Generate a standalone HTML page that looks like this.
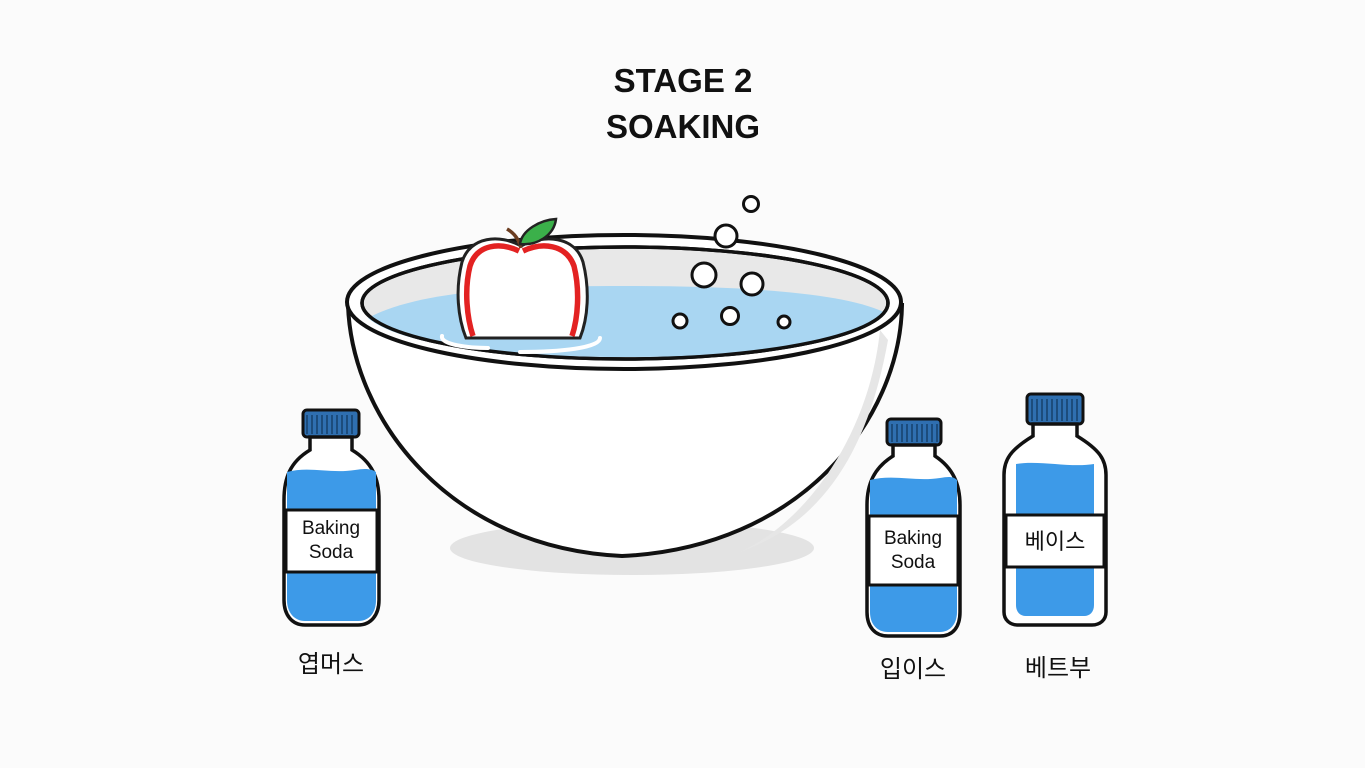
<!DOCTYPE html>
<html><head><meta charset="utf-8"><style>
html,body{margin:0;padding:0;background:#fbfbfb;}
svg{display:block}
text{font-family:"Liberation Sans","Noto Sans CJK KR",sans-serif;}
</style></head><body>
<svg width="1365" height="768" viewBox="0 0 1365 768" xmlns="http://www.w3.org/2000/svg">
<rect width="1365" height="768" fill="#fbfbfb"/>
<text x="683" y="92" text-anchor="middle" font-size="33" font-weight="bold" fill="#111">STAGE 2</text>
<text x="683" y="138" text-anchor="middle" font-size="33" font-weight="bold" fill="#111">SOAKING</text>

<ellipse cx="632" cy="548" rx="182" ry="27" fill="#e3e3e3"/>
<path d="M348,305 C352,420 450,548 622,556 C800,548 900,420 902,305 Z" fill="#fff" stroke="#111" stroke-width="4"/>
<path d="M880,330 C870,430 810,520 740,552 C830,520 870,440 888,340 Z" fill="#e6e6e6"/>
<ellipse cx="624" cy="302" rx="277" ry="67" fill="#fff" stroke="#111" stroke-width="4"/>
<ellipse cx="625" cy="303" rx="263" ry="56" fill="#e8e8e8" stroke="#111" stroke-width="3.5"/>
<path d="M368,318 C420,290 520,286 625,286 C740,286 840,292 884,312 C860,345 740,357 625,357 C500,357 400,345 368,318 Z" fill="#a9d6f2"/>
<ellipse cx="625" cy="303" rx="263" ry="56" fill="none" stroke="#111" stroke-width="3.5"/>
<!-- apple -->
<path d="M521,246 C500,234 470,236 462,262 C455,290 458,318 466,338 L580,338 C588,318 590,290 583,262 C575,236 544,234 521,246 Z" fill="#fff" stroke="#222" stroke-width="3"/>
<path d="M519,251 C500,242 477,244 470,266 C464,290 467,318 473,336 M523,251 C542,242 566,244 574,266 C580,290 578,318 572,336" fill="none" stroke="#e32222" stroke-width="5.5"/>
<path d="M521,248 C519,240 514,233 507,229" stroke="#6b3d20" stroke-width="3.5" fill="none"/>
<path d="M520,244 C522,230 540,220 556,219 C554,236 536,246 520,244 Z" fill="#3bb04a" stroke="#222" stroke-width="2.5"/>
<path d="M442,336 C440,345 470,348 488,348 M520,352 C560,352 600,348 600,338" stroke="#fff" stroke-width="4" fill="none" stroke-linecap="round"/>
<g fill="#fff" stroke="#111" stroke-width="3">
<circle cx="751" cy="204" r="7.5"/>
<circle cx="726" cy="236" r="11"/>
<circle cx="704" cy="275" r="12"/>
<circle cx="752" cy="284" r="11"/>
<circle cx="730" cy="316" r="8.5"/>
<circle cx="680" cy="321" r="7"/>
<circle cx="784" cy="322" r="6"/>
</g>

<g>
<rect x="303" y="410" width="56" height="27" rx="4" fill="#2f6fb0" stroke="#111" stroke-width="3"/>
<path d="M307,415 V434 M312,415 V434 M317,415 V434 M322,415 V434 M327,415 V434 M332,415 V434 M337,415 V434 M342,415 V434 M347,415 V434 M352,415 V434" stroke="#17406b" stroke-width="1.5"/>
<path d="M310,437 V450 C290,462 284,478 284,500 V600 C284,615 292,625 305,625 H358 C371,625 379,615 379,600 V500 C379,478 372,462 352,450 V437 Z" fill="#fff" stroke="#111" stroke-width="3.5"/>
<path d="M287,472 C310,466 330,474 355,470 C366,468 372,469 376,472 V600 C376,612 370,621 358,621 H305 C294,621 287,612 287,600 Z" fill="#3d9ae8"/>
<rect x="286" y="510" width="91" height="62" fill="#fff" stroke="#111" stroke-width="3"/>
<text x="331" y="534" text-anchor="middle" font-size="19" fill="#111">Baking</text>
<text x="331" y="558" text-anchor="middle" font-size="19" fill="#111">Soda</text>
</g>
<text x="331" y="672" text-anchor="middle" font-size="24" fill="#111">엽머스</text>

<g>
<rect x="887" y="419" width="54" height="26" rx="4" fill="#2f6fb0" stroke="#111" stroke-width="3"/>
<path d="M892,424 V442 M897,424 V442 M902,424 V442 M907,424 V442 M912,424 V442 M917,424 V442 M922,424 V442 M927,424 V442 M932,424 V442 M937,424 V442" stroke="#17406b" stroke-width="1.5"/>
<path d="M893,445 V456 C874,468 867,484 867,505 V612 C867,627 875,636 888,636 H940 C953,636 960,627 960,612 V505 C960,484 953,468 935,456 V445 Z" fill="#fff" stroke="#111" stroke-width="3.5"/>
<path d="M870,480 C895,474 915,482 940,478 C950,476 954,477 957,480 V612 C957,624 950,632 940,632 H888 C877,632 870,624 870,612 Z" fill="#3d9ae8"/>
<rect x="869" y="516" width="89" height="69" fill="#fff" stroke="#111" stroke-width="3"/>
<text x="913" y="544" text-anchor="middle" font-size="19" fill="#111">Baking</text>
<text x="913" y="568" text-anchor="middle" font-size="19" fill="#111">Soda</text>
</g>
<text x="913" y="677" text-anchor="middle" font-size="24" fill="#111">입이스</text>

<g>
<rect x="1027" y="394" width="56" height="30" rx="4" fill="#2f6fb0" stroke="#111" stroke-width="3"/>
<path d="M1032,399 V421 M1037,399 V421 M1042,399 V421 M1047,399 V421 M1052,399 V421 M1057,399 V421 M1062,399 V421 M1067,399 V421 M1072,399 V421 M1077,399 V421" stroke="#17406b" stroke-width="1.5"/>
<path d="M1033,424 V436 C1010,450 1004,460 1004,475 V612 C1004,620 1010,625 1018,625 H1092 C1100,625 1106,620 1106,612 V475 C1106,460 1100,450 1077,436 V424 Z" fill="#fff" stroke="#111" stroke-width="3.5"/>
<path d="M1016,464 C1040,460 1070,468 1094,464 V605 C1094,612 1090,616 1084,616 H1026 C1020,616 1016,612 1016,605 Z" fill="#3d9ae8"/>
<rect x="1006" y="515" width="98" height="52" fill="#fff" stroke="#111" stroke-width="3"/>
<text x="1055" y="549" text-anchor="middle" font-size="22" fill="#111">베이스</text>
</g>
<text x="1058" y="676" text-anchor="middle" font-size="24" fill="#111">베트부</text>
</svg>
</body></html>
